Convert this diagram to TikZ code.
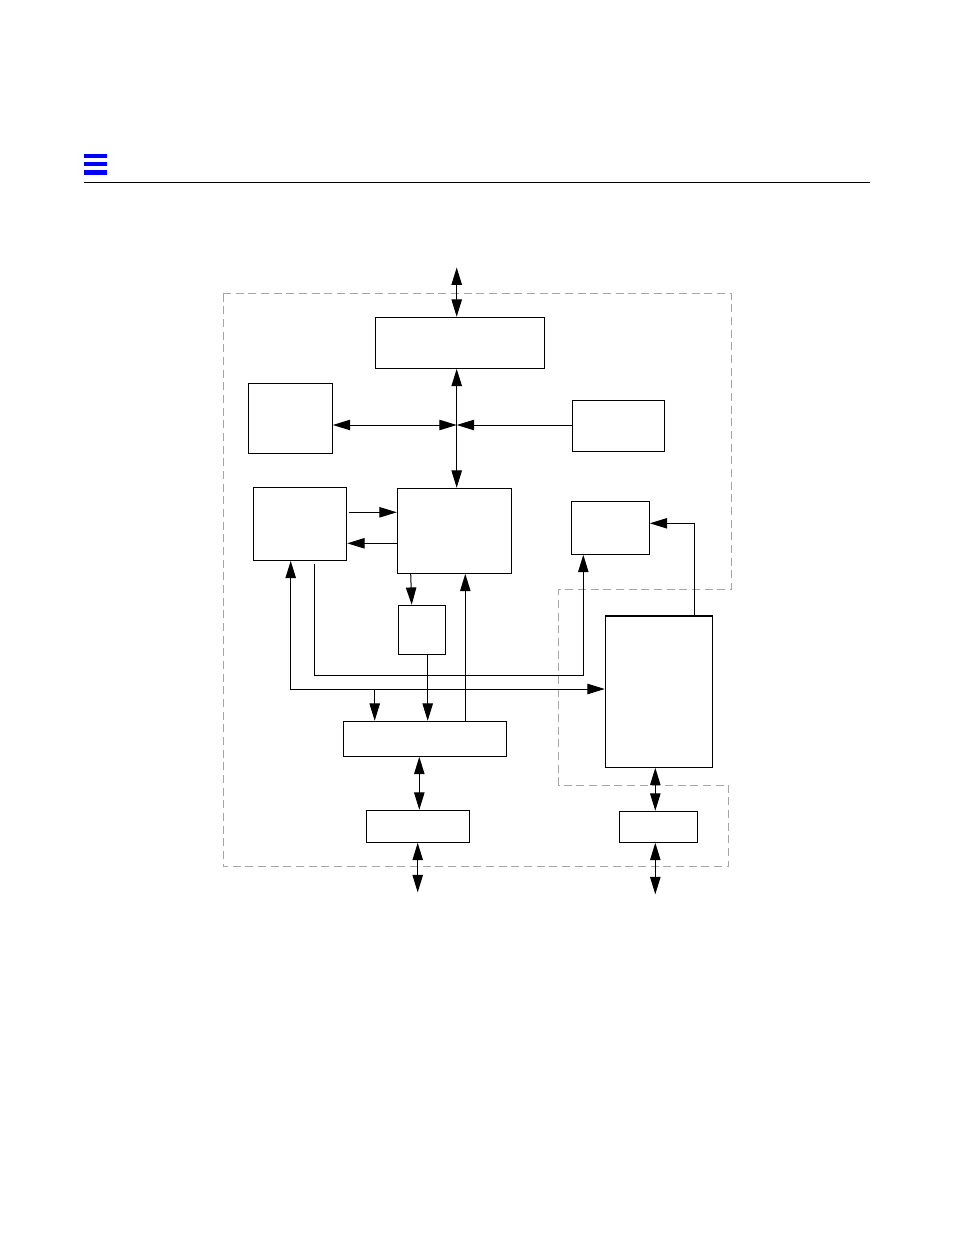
\documentclass[tikz,border=0pt]{standalone}
\usetikzlibrary{arrows.meta,fit}
\definecolor{dashgray}{RGB}{165,165,165}
\definecolor{barblue}{RGB}{0,0,255}
\begin{document}
\begin{tikzpicture}[x=0.75pt,y=-0.75pt,
  box/.style={draw=black,line width=0.8pt,inner sep=0pt,fill=none},
  conn/.style={line width=0.75pt},
  arr/.style={conn,-{Triangle[length=13pt,width=7.8pt]}},
  dbl/.style={conn,{Triangle[length=13pt,width=7.8pt]}-{Triangle[length=13pt,width=7.8pt]}},
  bound/.style={draw=dashgray,line width=0.75pt,dash pattern=on 6pt off 3.5pt}]
\useasboundingbox (0,0) rectangle (954,1235);
% header
\fill[barblue] (84,154) rectangle (107,158);
\fill[barblue] (84,162) rectangle (107,166);
\fill[barblue] (84,170) rectangle (107,174.5);
\draw[line width=0.75pt] (84,182.3) -- (870,182.3);
% dashed boundary
\draw[bound] (223,293.7) -- (731.7,293.7) -- (731.7,589.3) -- (558.7,589.3) -- (558.7,785) -- (728.7,785) -- (728.7,866.7) -- (223,866.7) -- cycle;
% boxes
\node[box,fit={(375.3,317.3)(544.3,368.3)}] (top) {};
\node[box,fit={(248.3,383.3)(332.3,453.3)}] (A) {};
\node[box,fit={(572.3,400.3)(664.3,451.3)}] (B) {};
\node[box,fit={(253.3,487.3)(346.7,560.3)}] (C) {};
\node[box,fit={(397.3,488.3)(511.7,573.3)}] (D) {};
\node[box,fit={(571.3,501.3)(649.3,554.3)}] (E) {};
\node[box,fit={(398.3,605.3)(445.3,654.3)}] (F) {};
\node[box,fit={(605.3,616)(712.7,767.3)}] (G) {};
\node[box,fit={(343.3,721.3)(506.3,756.3)}] (H) {};
\node[box,fit={(366.3,810.3)(469.3,842.3)}] (I) {};
\node[box,fit={(619.3,811.3)(697.3,842.3)}] (J) {};
% free ends
\coordinate (t0) at (456.7,267.5);
\coordinate (jn) at (456.7,425);
\coordinate (b1) at (417.7,892.3);
\coordinate (b2) at (655.3,894.3);
% connectors
\draw[dbl] (t0) -- (top.north -| t0);
\draw[dbl] (top.south -| jn) -- (D.north -| jn);
\draw[dbl] (A.east |- jn) -- (jn);
\draw[arr] (B.west |- jn) -- (jn);
\draw[arr] ([xshift=1.2pt]C.east |- 0,512.3) -- (D.west |- 0,512.3);
\draw[arr] (D.west |- 0,543.3) -- (C.east |- 0,543.3);
\draw[arr] (D.south -| 410.7,0) -- (F.north -| 411.7,0);
\draw[arr] (H.north -| 465.3,0) -- (D.south -| 465.3,0);
\draw[arr] ([yshift=-2.2pt]C.south -| 314.7,0) -- (314.7,675.3) -| (E.south -| 583.3,0);
\draw[dbl] (C.south -| 290.7,0) |- (G.west |- 0,689);
\draw[arr] (374.7,689) -- (H.north -| 374.7,0);
\draw[arr] (F.south -| 427.7,0) -- (H.north -| 427.7,0);
\draw[arr] (G.north -| 694.3,0) |- (E.east |- 0,523.3);
\draw[dbl] (H.south -| 419.3,0) -- (I.north -| 419.3,0);
\draw[dbl] (I.south -| b1) -- (b1);
\draw[dbl] (G.south -| 655.3,0) -- (J.north -| 655.3,0);
\draw[dbl] (J.south -| b2) -- (b2);
\end{tikzpicture}
\end{document}
